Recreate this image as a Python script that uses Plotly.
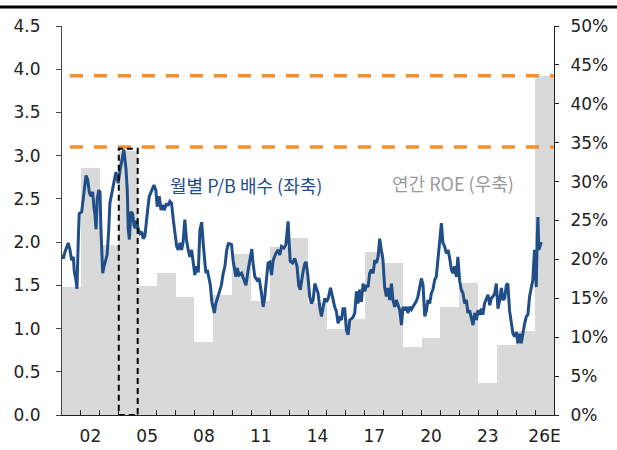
import plotly.graph_objects as go

# ---- data ----
roe_years = list(range(2001, 2027))
roe_pct = [16.4, 31.7, 21.8, 33.9, 16.6, 18.2, 15.2, 9.4, 15.4, 20.7, 14.6, 21.6, 22.7,
           14.4, 11.1, 12.4, 20.9, 19.6, 8.7, 9.9, 13.9, 17.0, 4.1, 9.0, 10.8, 43.6]

pb_t = [2001.00, 2001.07, 2001.16, 2001.25, 2001.33, 2001.42, 2001.51, 2001.60, 2001.65, 2001.74,
        2001.79, 2001.86, 2001.91, 2002.04, 2002.12, 2002.27, 2002.36, 2002.44, 2002.52, 2002.62,
        2002.69, 2002.74, 2002.80, 2002.86, 2002.94, 2003.01, 2003.05, 2003.10, 2003.15, 2003.22,
        2003.30, 2003.38, 2003.46, 2003.53, 2003.62, 2003.71, 2003.80, 2003.85, 2003.92, 2003.97,
        2004.06, 2004.15, 2004.22, 2004.27, 2004.33, 2004.38, 2004.45, 2004.50, 2004.56, 2004.64,
        2004.73, 2004.80, 2004.87, 2004.94, 2005.03, 2005.12, 2005.21, 2005.29, 2005.38, 2005.47,
        2005.54, 2005.61, 2005.74, 2005.86, 2005.96, 2006.03, 2006.14, 2006.23, 2006.32, 2006.40,
        2006.53, 2006.61, 2006.70, 2006.79, 2006.88, 2006.97, 2007.06, 2007.14, 2007.23, 2007.32,
        2007.40, 2007.49, 2007.58, 2007.67, 2007.76, 2007.85, 2007.93, 2008.02, 2008.11, 2008.20,
        2008.29, 2008.38, 2008.46, 2008.52, 2008.60, 2008.68, 2008.76, 2008.84, 2008.92, 2009.00,
        2009.05, 2009.13, 2009.25, 2009.34, 2009.42, 2009.52, 2009.61, 2009.70, 2009.79, 2009.87,
        2009.96, 2010.04, 2010.13, 2010.19, 2010.26, 2010.36, 2010.49, 2010.61, 2010.72, 2010.84,
        2010.96, 2011.03, 2011.10, 2011.19, 2011.31, 2011.42, 2011.54, 2011.63, 2011.72, 2011.81,
        2011.89, 2011.98, 2012.07, 2012.16, 2012.30, 2012.42, 2012.51, 2012.60, 2012.72, 2012.83,
        2012.90, 2012.95, 2013.00, 2013.06, 2013.18, 2013.30, 2013.42, 2013.51, 2013.59, 2013.67,
        2013.74, 2013.83, 2013.90, 2013.99, 2014.09, 2014.18, 2014.27, 2014.36, 2014.45, 2014.53,
        2014.62, 2014.71, 2014.80, 2014.89, 2014.98, 2015.07, 2015.19, 2015.29, 2015.41, 2015.50,
        2015.59, 2015.68, 2015.77, 2015.85, 2015.94, 2016.03, 2016.12, 2016.21, 2016.30, 2016.38,
        2016.47, 2016.56, 2016.64, 2016.73, 2016.82, 2016.91, 2017.00, 2017.09, 2017.17, 2017.26,
        2017.35, 2017.44, 2017.53, 2017.62, 2017.70, 2017.79, 2017.88, 2017.96, 2018.05, 2018.14,
        2018.23, 2018.32, 2018.41, 2018.49, 2018.58, 2018.67, 2018.76, 2018.85, 2018.94, 2019.02,
        2019.11, 2019.20, 2019.28, 2019.37, 2019.46, 2019.55, 2019.64, 2019.73, 2019.81, 2019.90,
        2019.99, 2020.08, 2020.17, 2020.26, 2020.34, 2020.43, 2020.52, 2020.60, 2020.69, 2020.78,
        2020.87, 2020.96, 2021.05, 2021.13, 2021.22, 2021.31, 2021.40, 2021.49, 2021.58, 2021.66,
        2021.75, 2021.84, 2021.92, 2022.01, 2022.10, 2022.19, 2022.28, 2022.37, 2022.45, 2022.54,
        2022.63, 2022.72, 2022.81, 2022.90, 2022.98, 2023.07, 2023.16, 2023.24, 2023.33, 2023.42,
        2023.51, 2023.61, 2023.69, 2023.77, 2023.86, 2023.95, 2024.04, 2024.13, 2024.22, 2024.30,
        2024.39, 2024.48, 2024.56, 2024.65, 2024.74, 2024.83, 2024.92, 2025.01, 2025.09, 2025.18,
        2025.27, 2025.36, 2025.45, 2025.54, 2025.62, 2025.71, 2025.80, 2025.88, 2025.97, 2026.06,
        2026.12, 2026.15, 2026.20, 2026.28, 2026.33]

pb_v = [1.85, 1.81, 1.89, 1.95, 1.99, 1.91, 1.79, 1.83, 1.66, 1.56,
        1.46, 2.02, 2.33, 2.35, 2.50, 2.77, 2.72, 2.58, 2.53, 2.58,
        2.40, 2.32, 2.15, 2.50, 2.60, 2.58, 2.20, 1.80, 1.64, 1.72,
        1.78, 1.85, 2.10, 2.45, 2.55, 2.64, 2.75, 2.81, 2.74, 2.68,
        2.82, 2.92, 3.02, 3.07, 2.95, 2.85, 2.60, 2.15, 2.03, 2.35,
        2.33, 2.20, 2.16, 2.25, 2.15, 2.10, 2.12, 2.04, 2.07, 2.22,
        2.40, 2.53, 2.60, 2.66, 2.60, 2.41, 2.53, 2.37, 2.43, 2.37,
        2.45, 2.42, 2.47, 2.45, 2.26, 2.10, 1.95, 1.91, 1.99, 1.91,
        2.00, 2.26, 2.02, 1.91, 1.83, 1.91, 1.76, 1.62, 1.72, 1.65,
        2.14, 2.23, 1.99, 1.85, 1.64, 1.68, 1.60, 1.50, 1.31, 1.20,
        1.18, 1.29, 1.39, 1.45, 1.50, 1.64, 1.72, 1.90, 1.98, 1.98,
        1.97, 1.79, 1.65, 1.60, 1.70, 1.62, 1.64, 1.56, 1.50, 1.68,
        1.81, 1.92, 1.75, 1.60, 1.56, 1.58, 1.41, 1.25, 1.38, 1.60,
        1.76, 1.77, 1.62, 1.79, 1.87, 1.91, 1.85, 1.95, 1.93, 1.97,
        2.10, 2.24, 2.00, 1.78, 1.76, 1.81, 1.72, 1.50, 1.45, 1.58,
        1.66, 1.75, 1.77, 1.62, 1.37, 1.29, 1.33, 1.52, 1.45, 1.41,
        1.25, 1.14, 1.25, 1.35, 1.31, 1.35, 1.47, 1.35, 1.25, 1.20,
        1.06, 1.12, 1.10, 1.23, 1.23, 0.98, 0.93, 1.10, 1.12, 1.13,
        1.18, 1.43, 1.29, 1.45, 1.31, 1.52, 1.43, 1.50, 1.48, 1.64,
        1.68, 1.64, 1.79, 1.76, 1.83, 2.04, 1.90, 1.80, 1.48, 1.37,
        1.47, 1.33, 1.52, 1.33, 1.25, 1.33, 1.27, 1.21, 1.04, 1.25,
        1.21, 1.25, 1.18, 1.25, 1.22, 1.25, 1.29, 1.32, 1.37, 1.48,
        1.58, 1.50, 1.14, 1.21, 1.33, 1.29, 1.41, 1.45, 1.56, 1.60,
        1.79, 2.02, 2.22, 1.99, 1.95, 1.87, 1.91, 1.81, 1.68, 1.64,
        1.72, 1.60, 1.83, 1.56, 1.45, 1.41, 1.29, 1.33, 1.18, 1.21,
        1.12, 1.04, 1.18, 1.10, 1.21, 1.16, 1.23, 1.16, 1.29, 1.35,
        1.39, 1.27, 1.35, 1.37, 1.40, 1.52, 1.23, 1.33, 1.47, 1.33,
        1.35, 1.50, 1.52, 1.21, 1.06, 0.94, 0.91, 0.96, 0.83, 0.94,
        0.83, 0.96, 1.06, 1.14, 1.16, 1.37, 1.50, 1.56, 1.91, 1.48,
        2.10, 2.29, 1.91, 1.99, 2.00]

tick_pos = [2002.5, 2005.5, 2008.5, 2011.5, 2014.5, 2017.5, 2020.5, 2023.5, 2026.5]
tick_txt = ["02", "05", "08", "11", "14", "17", "20", "23", "26E"]
pct_ticks = list(range(0, 51, 5))
pct_txt = [f"{v}%" for v in pct_ticks]
pb_ticks = [i * 0.5 for i in range(10)]

pb_peak_line = 3.1          # P/B reference (left axis)
roe_peak_line = roe_pct[-1]  # 2026E ROE reference (right axis)
box_year = 2004
box_top = 3.08

FONT = "DejaVu Sans"
KFONT = "Noto Sans CJK KR"
TXT = "#222222"

fig = go.Figure()

fig.add_trace(go.Bar(x=roe_years, y=roe_pct, offset=0, width=1,
                     marker=dict(color="#D9D9D9", line=dict(width=0)),
                     yaxis="y", showlegend=False, hoverinfo="skip"))

fig.add_trace(go.Scatter(x=pb_t, y=pb_v, mode="lines",
                         line=dict(color="#1F4E89", width=3),
                         yaxis="y2", showlegend=False))

fig.update_layout(
    width=617, height=450,
    margin=dict(l=62, r=63, t=26, b=35, autoexpand=False),
    paper_bgcolor="white", plot_bgcolor="white",
    bargap=0,
    font=dict(family=FONT, size=17, color=TXT),
    xaxis=dict(range=[2001, 2027], tickmode="array", tickvals=tick_pos, ticktext=tick_txt,
               ticks="", showgrid=False, zeroline=False, showline=True, automargin=False,
               linecolor=TXT, linewidth=1, ticklabelstandoff=6,
               tickfont=dict(family=FONT, size=17, color=TXT),
               minor=dict(tickmode="array", tickvals=list(range(2002, 2027)), ticks="inside",
                          ticklen=5, tickwidth=1, tickcolor=TXT, showgrid=False)),
    yaxis=dict(range=[0, 50], tickmode="array", tickvals=pct_ticks, ticktext=pct_txt,
               side="right", ticks="outside", ticklen=4, automargin=False,
               tickcolor=TXT, showline=True, linecolor=TXT, linewidth=1,
               showgrid=False, zeroline=False, ticklabelstandoff=8,
               tickfont=dict(family=FONT, size=17, color=TXT)),
    yaxis2=dict(range=[0, 4.5], tickmode="array", tickvals=pb_ticks,
                tickformat=".1f", overlaying="y", side="left", ticks="outside",
                ticklen=5, tickcolor="#444444", showline=True, linecolor="#444444",
                linewidth=1, showgrid=False, zeroline=False, ticklabelstandoff=12,
                automargin=False,
                tickfont=dict(family=FONT, size=17, color=TXT)),
)

# orange dashed reference lines
fig.add_shape(type="line", xref="x", yref="y2", x0=2001.42, x1=2027, y0=pb_peak_line,
              y1=pb_peak_line, line=dict(color="#F5902F", width=3.5, dash="13px,11px"),
              layer="above")
fig.add_shape(type="line", xref="x", yref="y", x0=2001.42, x1=2027, y0=roe_peak_line,
              y1=roe_peak_line, line=dict(color="#F5902F", width=3.5, dash="13px,11px"),
              layer="above")

# dashed box around 2004
fig.add_shape(type="rect", xref="x", yref="y2", x0=box_year, x1=box_year + 1, y0=0,
              y1=box_top, line=dict(color="black", width=2, dash="6px,4px"),
              fillcolor="rgba(0,0,0,0)", layer="above")

# top rule
fig.add_shape(type="line", xref="paper", yref="paper", x0=-0.126, x1=1.128, y0=1.049,
              y1=1.049, line=dict(color="black", width=3), layer="above")

fig.add_annotation(x=2006.6, y=2.66, xref="x", yref="y2", text="월별 P/B 배수 (좌축)",
                   showarrow=False, xanchor="left", yanchor="middle",
                   font=dict(family=KFONT, size=18, color="#1F4E89"))
fig.add_annotation(x=2018.32, y=2.68, xref="x", yref="y2", text="연간 ROE (우축)",
                   showarrow=False, xanchor="left", yanchor="middle",
                   font=dict(family=KFONT, size=18, color="#9A9A9A"))

fig.write_html("out.html", config={"displayModeBar": False},
               post_script="document.body.style.margin='0';document.body.style.overflow='hidden';")
